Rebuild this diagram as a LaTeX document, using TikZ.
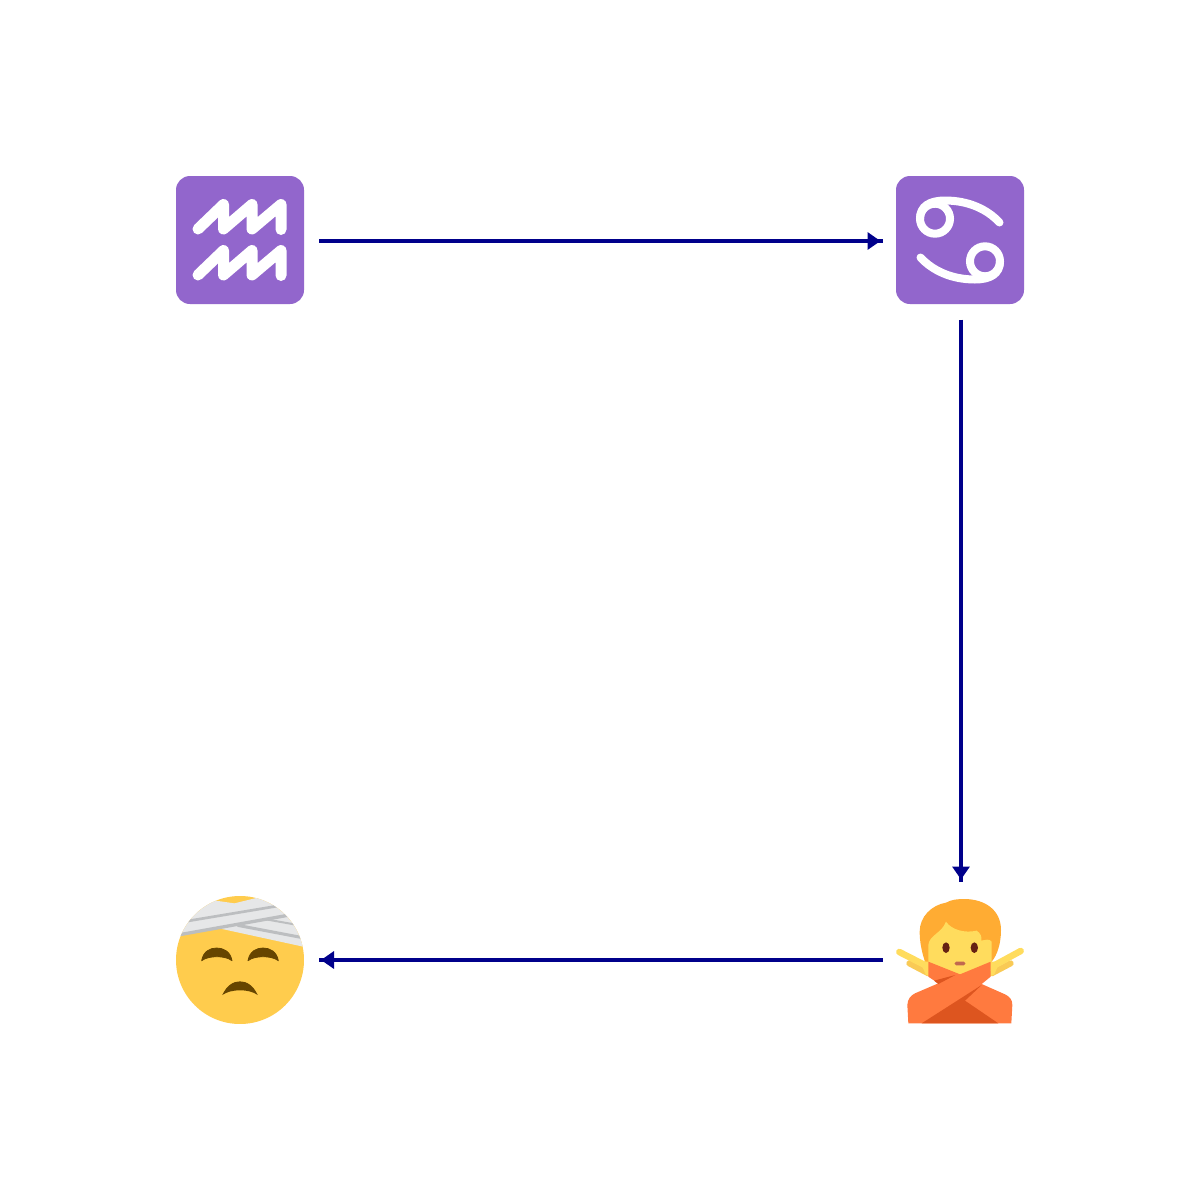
\documentclass[tikz,border=0pt]{standalone}
\usetikzlibrary{arrows.meta}
\definecolor{zodiac}{HTML}{9266CC}
\definecolor{faceY}{HTML}{FFCC4D}
\definecolor{band}{HTML}{E6E7E8}
\definecolor{bandS}{HTML}{BCBEC0}
\definecolor{featr}{HTML}{664500}
\definecolor{hair}{HTML}{FFAC33}
\definecolor{skin}{HTML}{FFDC5D}
\definecolor{skinS}{HTML}{F9CA55}
\definecolor{shirt}{HTML}{FF7A3F}
\definecolor{shirtD}{HTML}{DD551F}
\definecolor{eyeC}{HTML}{662113}
\definecolor{mouthC}{HTML}{C1694F}
\definecolor{arrowC}{HTML}{00008B}
\tikzset{
  slot/.style={minimum size=157pt,inner sep=0pt,outer sep=0pt},
  conn/.style={draw=arrowC,line width=4pt,-{Triangle[length=13pt,width=17pt]Rectangle[length=2pt,width=4pt]}},
  glyph/.style={draw=white,line width=11pt,line cap=round,line join=round},
  crab/.style={draw=white,line width=8pt,line cap=round}
}
\begin{document}
\begin{tikzpicture}[x=1pt,y=-1pt]
\useasboundingbox (0,0) rectangle (1200,1200);
\fill[white] (0,0) rectangle (1200,1200);
\node[slot] (aq) at (240.5,241) {};
\node[slot] (ca) at (961,241) {};
\node[slot] (pe) at (961,960) {};
\node[slot] (fa) at (240.5,960) {};
% aquarius
\fill[zodiac,rounded corners=14pt] (176,176) rectangle (304,304);
\foreach \dy in {0,46}{
  \draw[glyph] (198,{229+\dy}) -- (223.5,{204.5+\dy}) -- (223.5,{229+\dy}) -- (252,{204.5+\dy}) -- (252,{229+\dy}) -- (281,{204.5+\dy}) -- (281,{229.5+\dy});
}
% cancer
\fill[zodiac,rounded corners=14pt] (896,176) rectangle (1024,304);
\draw[crab] (935,218.7) circle (15);
\draw[crab] (985,261.3) circle (15);
\draw[crab] (920,218.7) .. controls (920,206) and (930,200.5) .. (945,200.5) .. controls (968,200.5) and (987,209) .. (999.5,222.5);
\draw[crab] (1000,261.3) .. controls (1000,274) and (990,279.5) .. (975,279.5) .. controls (952,279.5) and (933,271) .. (920.5,257.5);
% hurt face
\begin{scope}
  \clip (240,960) circle (64);
  \fill[faceY] (176,896) rectangle (304,1024);
  \begin{scope}[shift={(166,886)},scale=1/3]
    \fill[band] (20,145) -- (150,125) -- (430,186) -- (430,20) -- (275,35) -- (205,52) -- (150,44) -- (20,60) -- cycle;
    \draw[bandS,line width=2.7pt] (65,105) -- (335,60);
    \draw[bandS,line width=3pt] (215,118) -- (410,155);
    \draw[bandS,line width=2pt] (300,100) -- (390,116);
    \draw[bandS,line width=3.3pt] (30,148) -- (365,88);
  \end{scope}
\end{scope}
\begin{scope}[shift={(166,886)},scale=1/3]
  \foreach \dx in {0,139}{
    \fill[featr,shift={(\dx,0)},draw=featr,line width=0.8pt,line join=round] (107,224) .. controls (112,196) and (132,186) .. (152,186) .. controls (172,186) and (193,196) .. (198,224) .. controls (178,208) and (127,208) .. (107,224) -- cycle;
  }
  \fill[featr] (169,327) .. controls (182,298) and (202,286) .. (222,286) .. controls (242,286) and (262,298) .. (275,327) .. controls (250,308) and (195,308) .. (169,327) -- cycle;
\end{scope}
% person
\begin{scope}[shift={(870,860)},scale=1/3]
  \fill[hair] (228,128) .. controls (245,118) and (265,117) .. (285,117) .. controls (345,118) and (393,150) .. (393,210) .. controls (393,250) and (382,285) .. (365,305) -- (365,315) -- (175,315) -- (165,305) .. controls (155,275) and (149,245) .. (149,215) .. controls (149,170) and (185,135) .. (228,128) -- cycle;
  \draw[skinS,line width=6pt,line cap=round] (118,310) -- (175,340);
  \draw[skinS,line width=6pt,line cap=round] (422,310) -- (365,340);
  \draw[skin,line width=6.5pt,line cap=round] (88,276) -- (178,322);
  \draw[skin,line width=6.5pt,line cap=round] (452,273) -- (362,322);
  \fill[skin] (150,305) -- (178,305) -- (178,347) -- (168,345) -- cycle;
  \fill[skin] (390,305) -- (362,305) -- (362,347) -- (372,345) -- cycle;
  \fill[skin] (175,310) -- (175,255) .. controls (178,225) and (215,220) .. (228,185) .. controls (245,210) and (285,220) .. (320,212) .. controls (332,220) and (336,230) .. (334,242) .. controls (345,240) and (358,235) .. (365,245) -- (365,310) -- (270,350) -- cycle;
  \fill[eyeC] (228,263) ellipse (11 and 16);
  \fill[eyeC] (313,263) ellipse (11 and 16);
  \fill[mouthC,rounded corners=1.5pt] (254,305) rectangle (286,316);
  \fill[shirt] (175,305) -- (270,343) -- (362,305) -- (362,350) -- (335,372) -- (405,403) .. controls (420,410) and (427,420) .. (427,435) -- (424,490) -- (115,490) -- (112,435) .. controls (113,418) and (122,406) .. (135,400) -- (205,370) -- (175,350) -- cycle;
  \fill[shirtD] (155,490) -- (335,375) -- (285,422) -- (385,490) -- cycle;
  \fill[shirtD] (192,362) -- (256,345) -- (205,372) -- cycle;
\end{scope}
% connectors
\draw[conn] (aq) -- (ca);
\draw[conn] (ca) -- (pe);
\draw[conn] (pe) -- (fa);
\end{tikzpicture}
\end{document}
